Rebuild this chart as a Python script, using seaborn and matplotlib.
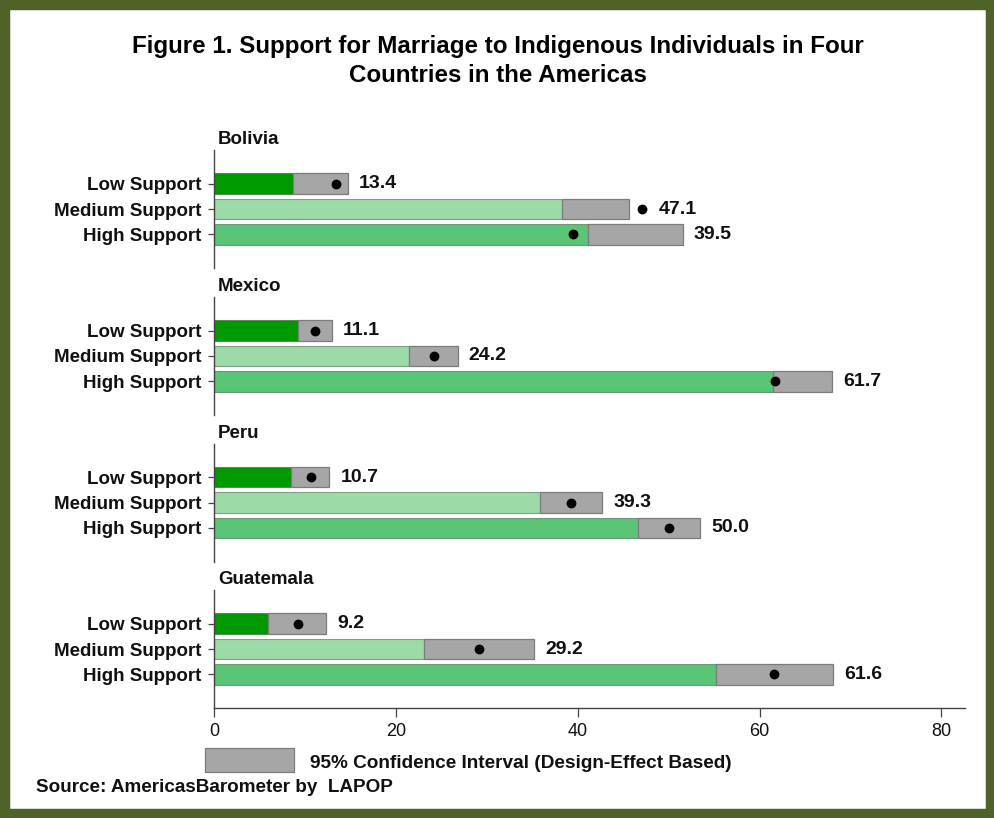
import numpy as np
import pandas as pd
import matplotlib
matplotlib.use("Agg")
import matplotlib.pyplot as plt
from matplotlib.patches import Rectangle
import seaborn as sns

# ---- data -----------------------------------------------------------------
countries = ["Bolivia", "Mexico", "Peru", "Guatemala"]
levels = ["Low Support", "Medium Support", "High Support"]

# percentage estimates (as printed next to each bar)
estimate = {
    "Bolivia":   [13.4, 47.1, 39.5],
    "Mexico":    [11.1, 24.2, 61.7],
    "Peru":      [10.7, 39.3, 50.0],
    "Guatemala": [9.2, 29.2, 61.6],
}
# 95% confidence interval bounds
ci_lower = {
    "Bolivia":   [8.65, 38.25, 41.1],
    "Mexico":    [9.25, 21.45, 61.45],
    "Peru":      [8.5, 35.9, 46.6],
    "Guatemala": [5.9, 23.1, 55.25],
}
ci_upper = {
    "Bolivia":   [14.7, 45.65, 51.55],
    "Mexico":    [12.95, 26.8, 68.0],
    "Peru":      [12.7, 42.7, 53.45],
    "Guatemala": [12.3, 35.2, 68.1],
}
x_ticks = [0, 20, 40, 60, 80]

title_lines = ["Figure 1. Support for Marriage to Indigenous Individuals in Four",
               "Countries in the Americas"]
legend_text = "95% Confidence Interval (Design-Effect Based)"
source_text = "Source: AmericasBarometer by  LAPOP"

# ---- styling --------------------------------------------------------------
sns.set_theme(style="white")
plt.rcParams["font.family"] = ["Liberation Sans", "DejaVu Sans"]

bar_colors = {"Low Support": "#009A00",
              "Medium Support": "#9CDBA7",
              "High Support": "#5BC577"}
ci_face = "#A6A6A6"
ci_edge = "#7C7C7C"
frame_color = "#4F6228"
text_color = "#111111"

W, H = 995, 818
fig = plt.figure(figsize=(W / 100, H / 100), dpi=100)
fig.patch.set_facecolor("white")

# long-form table used by seaborn
rows = []
for c in countries:
    for i, lv in enumerate(levels):
        rows.append({"country": c, "level": lv, "pos": i,
                     "estimate": estimate[c][i],
                     "lower": ci_lower[c][i], "upper": ci_upper[c][i]})
df = pd.DataFrame(rows)

left = 214 / W
width = (965 - 214) / W
panel_top_px = [150, 297, 443.5, 590]
panel_h_px = 118
xmax = 82.6

axes = []
for k, c in enumerate(countries):
    top = panel_top_px[k]
    ax = fig.add_axes([left, (H - top - panel_h_px) / H, width, panel_h_px / H])
    axes.append(ax)
    sub = df[df["country"] == c]

    # bars run up to the lower CI bound
    sns.barplot(data=sub, x="lower", y="level", hue="level", order=levels,
                hue_order=levels, palette=bar_colors, orient="h", width=0.8,
                legend=False, ax=ax, edgecolor=(0.15, 0.25, 0.15, 0.45),
                linewidth=0.8, saturation=1)
    # grey confidence-interval boxes
    ax.barh(sub["pos"], sub["upper"] - sub["lower"], left=sub["lower"],
            height=0.8, color=ci_face, edgecolor=ci_edge, linewidth=0.9)
    # point estimates
    ax.scatter(sub["estimate"], sub["pos"], s=50, color="black", zorder=5,
               linewidths=0)
    # value labels
    for _, r in sub.iterrows():
        anchor = max(r["upper"], r["estimate"] + 0.6)
        ax.annotate(f"{r['estimate']:.1f}", xy=(anchor, r["pos"]),
                    xytext=(8, 0), textcoords="offset points",
                    ha="left", va="center", fontsize=14, fontweight="bold",
                    color=text_color)

    ax.set_xlim(0, xmax)
    ax.set_ylim(3.315, -1.315)
    ax.set_ylabel("")
    ax.set_xlabel("")
    for s in ["top", "right"]:
        ax.spines[s].set_visible(False)
    ax.spines["left"].set_color("#444444")
    ax.spines["left"].set_linewidth(1.0)
    ax.tick_params(axis="y", which="both", left=True, length=4.5, width=0.9,
                   color="#444444", pad=4.5, labelsize=13.5,
                   labelcolor=text_color)
    for t in ax.get_yticklabels():
        t.set_fontweight("bold")
    ax.set_facecolor("none")

    # country heading
    ax.annotate(c, xy=(0, 1), xycoords="axes fraction", xytext=(3, 7.5),
                textcoords="offset points", ha="left", va="center",
                fontsize=13.5, fontweight="bold", color=text_color)

    if k < len(countries) - 1:
        ax.spines["bottom"].set_visible(False)
        ax.set_xticks([])
    else:
        ax.spines["bottom"].set_color("#444444")
        ax.spines["bottom"].set_linewidth(1.0)
        ax.set_xticks(x_ticks)
        ax.tick_params(axis="x", bottom=True, length=6.5, width=0.9,
                       color="#444444", pad=4, labelsize=13,
                       labelcolor=text_color)

# title
fig.text(0.5, 1 - 46 / H, title_lines[0], ha="center", va="center",
         fontsize=17.4, fontweight="bold", color="black")
fig.text(0.5, 1 - 76 / H, title_lines[1], ha="center", va="center",
         fontsize=17.4, fontweight="bold", color="black")

# legend swatch for the CI boxes
fig.patches.append(Rectangle((205 / W, 1 - 772 / H), 89 / W, 24 / H,
                             transform=fig.transFigure, facecolor=ci_face,
                             edgecolor=ci_edge, linewidth=0.9))
fig.text(310 / W, 1 - 763 / H, legend_text, ha="left", va="center",
         fontsize=13.7, fontweight="bold", color=text_color)

# source note
fig.text(36 / W, 1 - 787 / H, source_text, ha="left", va="center",
         fontsize=13.6, fontweight="bold", color=text_color)

# olive frame around the figure
fig.patches.append(Rectangle((0, 0), 1, 1, transform=fig.transFigure,
                             fill=False, edgecolor=frame_color,
                             linewidth=14, zorder=10))

fig.savefig("out.png", dpi=100, facecolor="white")
